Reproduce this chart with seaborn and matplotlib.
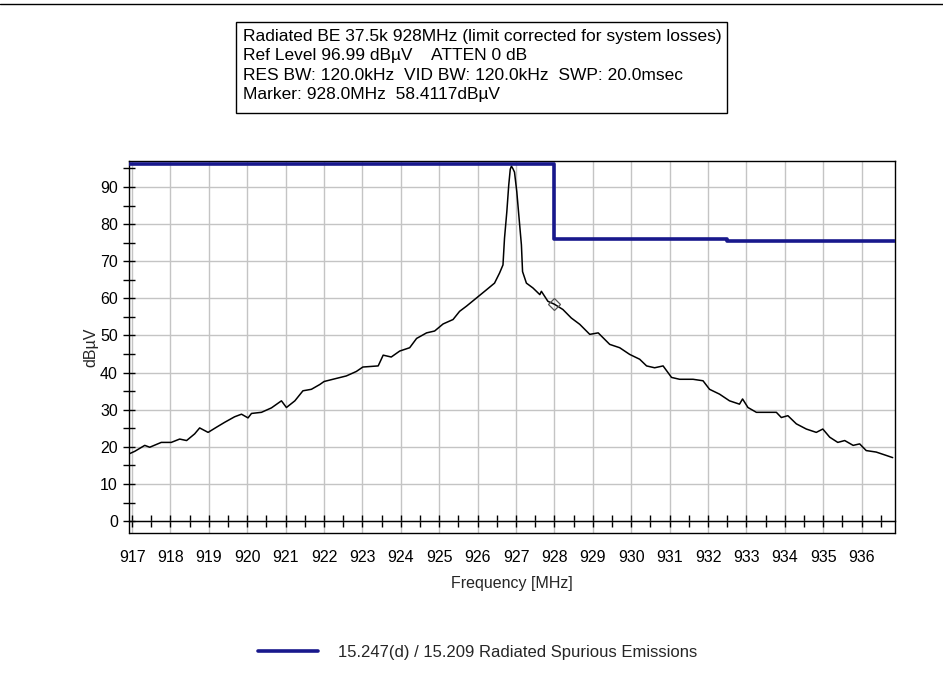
import matplotlib
matplotlib.use("Agg")
import matplotlib.pyplot as plt
from matplotlib.patches import Rectangle
from matplotlib.lines import Line2D
from matplotlib.ticker import MultipleLocator
import seaborn as sns
import pandas as pd

# Measured trace (MHz, dBµV)
trace_freq = [
    916.92, 917.07, 917.33, 917.46, 917.76, 918.02, 918.24, 918.42, 918.63, 918.76,
    918.98, 919.20, 919.41, 919.67, 919.85, 920.02, 920.11, 920.37, 920.63, 920.89,
    921.02, 921.24, 921.45, 921.67, 921.89, 922.00, 922.23, 922.58, 922.84, 923.01,
    923.41, 923.54, 923.75, 923.97, 924.23, 924.41, 924.67, 924.88, 925.10, 925.36,
    925.53, 925.71, 925.97, 926.23, 926.44, 926.57, 926.66, 926.70, 926.76, 926.81,
    926.85, 926.88, 926.92, 926.96, 927.02, 927.08, 927.14, 927.17, 927.27, 927.44,
    927.62, 927.66, 927.83, 928.00, 928.22, 928.44, 928.66, 928.92, 929.14, 929.44,
    929.70, 929.96, 930.22, 930.40, 930.61, 930.83, 931.05, 931.26, 931.61, 931.87,
    932.04, 932.30, 932.56, 932.82, 932.90, 933.04, 933.26, 933.52, 933.78, 933.91,
    934.08, 934.30, 934.56, 934.82, 934.99, 935.17, 935.38, 935.56, 935.78, 935.95,
    936.12, 936.38, 936.64, 936.81,
]
trace_level = [
    18.1, 18.8, 20.4, 19.9, 21.2, 21.2, 22.1, 21.7, 23.5, 25.1,
    23.9, 25.3, 26.6, 28.1, 28.8, 27.8, 29.0, 29.3, 30.5, 32.4,
    30.6, 32.4, 35.1, 35.5, 36.8, 37.6, 38.2, 39.1, 40.3, 41.5,
    41.8, 44.7, 44.2, 45.8, 46.7, 49.2, 50.7, 51.2, 53.1, 54.3,
    56.5, 57.9, 60.1, 62.3, 64.1, 66.8, 69.0, 76.2, 83.3, 90.5,
    94.8, 95.6, 94.9, 94.0, 88.7, 81.5, 74.4, 67.2, 64.1, 62.8,
    61.0, 61.9, 59.2, 58.41, 57.0, 54.7, 53.0, 50.3, 50.7, 47.6,
    46.7, 44.9, 43.6, 41.8, 41.3, 41.8, 38.7, 38.2, 38.2, 37.8,
    35.5, 34.2, 32.4, 31.5, 32.9, 30.6, 29.3, 29.3, 29.3, 27.9,
    28.4, 26.2, 24.8, 23.9, 24.8, 22.6, 21.2, 21.7, 20.4, 20.8,
    19.0, 18.6, 17.7, 17.1,
]

# Limit line (stepped)
limit_freq = [916.9, 928.0, 932.5, 936.9]
limit_level = [96.2, 76.0, 75.5, 75.5]
limit_label = "15.247(d) / 15.209 Radiated Spurious Emissions"

# Marker
marker_freq = 928.0
marker_level = 58.4117

header_lines = [
    "Radiated BE 37.5k 928MHz (limit corrected for system losses)",
    "Ref Level 96.99 dBµV    ATTEN 0 dB",
    "RES BW: 120.0kHz  VID BW: 120.0kHz  SWP: 20.0msec",
    "Marker: 928.0MHz  58.4117dBµV",
]
x_ticks = list(range(917, 937))
y_ticks = list(range(0, 100, 10))

sns.set_theme(style="white")
plt.rcParams["font.family"] = ["Liberation Sans", "DejaVu Sans"]

W, H = 943, 675
fig = plt.figure(figsize=(W / 100, H / 100), dpi=100)
fig.patch.set_facecolor("white")
ax = fig.add_axes([129 / W, 1 - 533 / H, (895 - 129) / W, (533 - 161) / H])
ax.set_facecolor("white")

trace_df = pd.DataFrame({"freq": trace_freq, "level": trace_level})
limit_df = pd.DataFrame({"freq": limit_freq, "level": limit_level})

sns.lineplot(data=trace_df, x="freq", y="level", ax=ax, color="black",
             linewidth=1.1, estimator=None, sort=True, zorder=3)
sns.lineplot(data=limit_df, x="freq", y="level", ax=ax, color="#18188c",
             linewidth=2.6, estimator=None, drawstyle="steps-post", zorder=4)
ax.plot([marker_freq], [marker_level], marker="D", markersize=6,
        markerfacecolor="none", markeredgecolor="#555555", markeredgewidth=0.9,
        zorder=5)

ax.set_xlim(916.92, 936.87)
ax.set_ylim(-3.2, 96.99)
ax.set_xticks(x_ticks)
ax.set_yticks(y_ticks)
ax.xaxis.set_minor_locator(MultipleLocator(0.5))
ax.yaxis.set_minor_locator(MultipleLocator(5))
ax.grid(True, which="major", color="#c4c4c4", linewidth=1.0)
ax.set_axisbelow(True)

for s in ax.spines.values():
    s.set_color("black")
    s.set_linewidth(1.0)
ax.spines["bottom"].set_position(("data", 0))
ax.plot([0, 1], [0, 0], transform=ax.transAxes, color="black",
        linewidth=1.0, clip_on=False, zorder=6)

ax.tick_params(axis="both", which="both", direction="inout", color="black",
               width=1.0, labelsize=11.5, labelcolor="black")
ax.tick_params(axis="both", which="major", length=8)
ax.tick_params(axis="both", which="minor", length=8)
ax.tick_params(axis="x", which="major", pad=17)
ax.tick_params(axis="y", which="major", pad=4)
ax.tick_params(bottom=True, left=True, which="both")

ax.set_xlabel("Frequency [MHz]", fontsize=11.5, labelpad=8)
ax.set_ylabel("dBµV", fontsize=11.5, labelpad=1)

# Header box
fig.patches.append(Rectangle((236 / W, 1 - 113 / H), (727 - 236) / W, (113 - 22) / H,
                             transform=fig.transFigure, facecolor="white",
                             edgecolor="black", linewidth=1.0))
for i, line in enumerate(header_lines):
    fig.text(243 / W, 1 - (36 + 19.6 * i) / H, line, fontsize=12.5,
             va="center", ha="left", color="black")

# Top border
fig.add_artist(Line2D([0, 1], [1 - 3.5 / H, 1 - 3.5 / H], transform=fig.transFigure,
                      color="black", linewidth=1.0))

# Legend
handle = Line2D([], [], color="#18188c", linewidth=2.6)
fig.legend([handle], [limit_label], loc="center",
           bbox_to_anchor=(478 / W, 1 - 652 / H), frameon=False,
           fontsize=12, handlelength=3.6, handletextpad=1.2)

fig.savefig("out.png", dpi=100, facecolor="white")
